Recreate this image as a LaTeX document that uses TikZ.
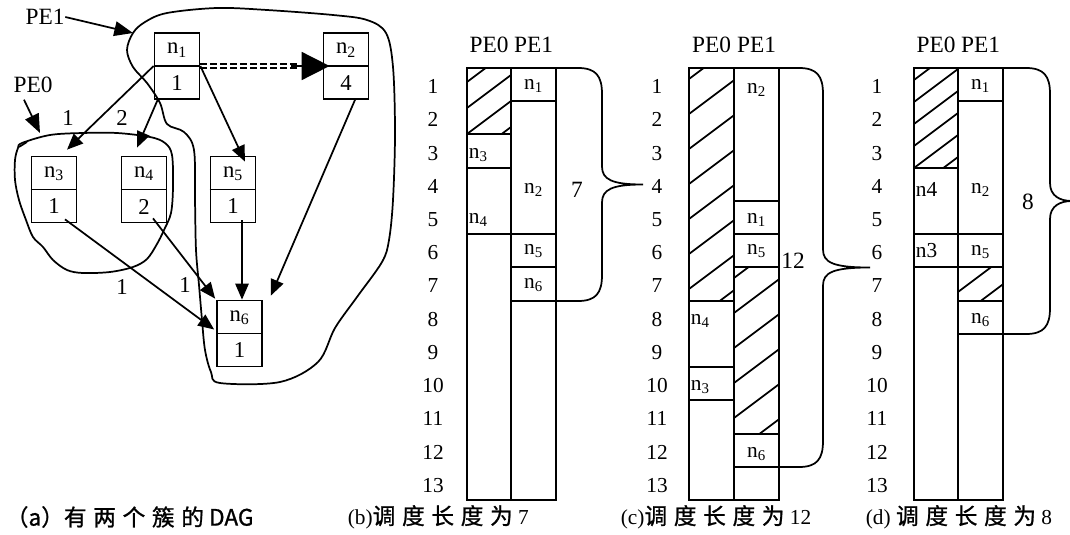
\documentclass[tikz,border=0pt]{standalone}
\usepackage{fontspec}
\setmainfont{Liberation Serif}
\newfontfamily\cjk[FakeBold=1]{Noto Sans CJK SC}
\usetikzlibrary{arrows.meta,calc}
\newcommand\rowY[1]{round(68+33.23*(#1))}
\newcommand\cjkg{\kern5pt}
\def\hsp{36}
\newcommand\hatchrect[5][-24]{%
  \begin{scope}
    \clip ({#2},{#3}) rectangle ({#4},{#5});
    \foreach \i in {0,...,14} {\draw ({#2},{#3+#1+\hsp*\i}) -- ++(60,-45);}
  \end{scope}}
\newcommand\schedbrace[5]{%
  \pgfmathsetmacro\ym{(#2+#3)/2}
  \draw ({#1},{#2}) -- ({#4-24},{#2}) .. controls ({#4-6},{#2}) and ({#4},{#2+8}) .. ({#4},{#2+26})
    -- ({#4},{\ym-18}) .. controls ({#4},{\ym-5}) and ({#4+10},{\ym}) .. ({#5},{\ym})
    .. controls ({#4+10},{\ym}) and ({#4},{\ym+5}) .. ({#4},{\ym+18})
    -- ({#4},{#3-26}) .. controls ({#4},{#3-8}) and ({#4-6},{#3}) .. ({#4-24},{#3}) -- ({#1},{#3});}
\newcommand\gantt[5]{%
  \draw ({#2},68) rectangle ({#4},500);
  \draw ({#3},68) -- ({#3},500);
  \foreach \k in {1,...,13} {\node[rowlab] (#1r\k) at ({#5},{68+33.23*(\k-0.5)+2}) {\k};}
  \node[hdr] (#1h0) at ({(#2+#3)/2},45) {PE0};
  \node[hdr] (#1h1) at ({(#3+#4)/2},45) {PE1};}
\newcommand\cut[3]{\draw ({#1},{\rowY{#3}}) -- ({#2},{\rowY{#3}});}
\tikzset{
  rowlab/.style={font=\fontsize{16}{17}\selectfont, inner sep=0pt},
  hdr/.style={font=\fontsize{17.5}{19}\selectfont, inner sep=0pt},
  celltxt/.style={font=\fontsize{16}{17}\selectfont, inner sep=0pt},
  lcelltxt/.style={celltxt, anchor=west},
  dagbox/.style={draw, minimum width=33.75pt, minimum height=49.5pt, inner sep=0pt},
  dagtxt/.style={font=\fontsize{17}{18}\selectfont, inner sep=0pt},
  captxt/.style={font=\fontsize{16}{18}\selectfont, inner sep=0pt, anchor=west},
  cjkcap/.style={font=\fontsize{17}{18}\selectfont\cjk},
  arr/.style={-{Triangle[length=12pt,width=10pt]}},
  bigarr/.style={-{Triangle[length=21pt,width=21pt]}},
}
\begin{document}
\begin{tikzpicture}[x=0.75pt,y=-0.75pt,line width=1.3pt]
\useasboundingbox (0,0) rectangle (1070,535);
% ---------------- (a) DAG ----------------
\draw plot[smooth cycle, tension=0.55] coordinates {(127,50)(133,33)(145,22)(167,13)(217,8)(267,10)(333,15)(367,20)(386,33)(393,67)(395,133)(393,200)(389,240)(382,262)(357,297)(335,328)(318,362)(280,382)(220,383)(211,372)(205,350)(202,320)(199,285)(196,250)(195,200)(194,150)(184,132)(167,124)(160,103)(147,83)(133,67)};
\draw plot[smooth cycle, tension=0.55] coordinates {(22,143)(50,135)(83,133)(117,133)(150,137)(165,143)(172,155)(173,187)(171,213)(164,230)(157,244)(147,259)(133,267)(110,272)(83,273)(67,270)(53,260)(43,247)(33,237)(26,220)(19,200)(15,180)(15,160)(18,148)};
\draw (19,147) -- (27,142);
\node[dagbox] (n1) at (177,66) {};
\node[dagbox] (n2) at (346,66) {};
\node[dagbox] (n3) at (54,189.5) {};
\node[dagbox] (n4) at (144,189.5) {};
\node[dagbox] (n5) at (233,189.5) {};
\node[dagbox] (n6) at (239.5,333.5) {};
\foreach \n/\s/\w in {n1/1/1,n2/2/4,n3/3/1,n4/4/2,n5/5/1,n6/6/1} {
  \draw (\n.west) -- (\n.east);
  \node[dagtxt] (\n a) at ($(\n.center)+(0,-16)$) {n\textsubscript{\s}};
  \node[dagtxt] (\n b) at ($(\n.center)+(0,17)$) {\w};
}
\node[hdr] (pe1) at (45,17) {PE1};
\coordinate (pe1tip) at (133,33);
\draw[-{Triangle[length=14pt,width=11pt]}] (pe1.east) -- (pe1tip);
\node[hdr] (pe0) at (33,85) {PE0};
\coordinate (pe0tip) at (40,133);
\draw[-{Triangle[length=14pt,width=11pt]}] ([shift={(-9,6)}]pe0.south) -- (pe0tip);
% edges
\draw[dashed, dash pattern=on 5pt off 2.5pt, line width=1pt] ([shift={(0,-2)}]n1.east) -- ([shift={(-26,-2)}]n2.west);
\draw[dashed, dash pattern=on 5pt off 2.5pt, line width=1pt] ([shift={(0,2)}]n1.east) -- ([shift={(-26,2)}]n2.west);
\draw[bigarr] ([shift={(-32,0)}]n2.west) -- ([shift={(7,0)}]n2.west);
\draw[arr] (n1.west) -- ([shift={(13,-6)}]n3.north);
\draw[arr] ([shift={(4,0)}]n1.south west) -- ([shift={(-7,-8)}]n4.north);
\draw[arr] (n1.east) -- ([shift={(12,6)}]n5.north);
\draw[arr] ([shift={(9,0)}]n2.south) -- ([shift={(8,-4)}]n6.north east);
\draw[arr] ([shift={(9,-3)}]n5.south) -- ([shift={(2.5,0)}]n6.north);
\draw[arr] ([shift={(9,-5)}]n4.south) -- ([shift={(-1,-1)}]n6.north west);
\draw[arr] ([shift={(11,-4)}]n3.south) -- ([shift={(-2,-4)}]n6.west);
\node[dagtxt] (w13) at (68,118) {1};
\node[dagtxt] (w14) at (122,118) {2};
\node[dagtxt] (w36) at (122,287) {1};
\node[dagtxt] (w46) at (185,285) {1};
% ---------------- (b) ----------------
\def\hsp{26}
\hatchrect[-12]{467}{68}{511}{\rowY{2}}
\gantt{b}{467}{511}{556}{433}
\cut{467}{511}{2}\cut{467}{511}{3}\cut{467}{511}{5}
\cut{511}{556}{1}\cut{511}{556}{5}\cut{511}{556}{6}\cut{511}{556}{7}
\node[celltxt] (bn1) at (533.5,86) {n\textsubscript{1}};
\node[celltxt] (bn2) at (533.5,190) {n\textsubscript{2}};
\node[celltxt] (bn5) at (533.5,251) {n\textsubscript{5}};
\node[celltxt] (bn6) at (533.5,285) {n\textsubscript{6}};
\node[lcelltxt] (bn3) at (468,155) {n\textsubscript{3}};
\node[lcelltxt] (bn4) at (468,220) {n\textsubscript{4}};
\schedbrace{556}{68}{301}{602}{643}
\node[hdr] (bt) at (577,190) {7};
% ---------------- (c) ----------------
\def\hsp{35}
\hatchrect{689}{68}{734}{\rowY{7}}
\hatchrect{734}{\rowY{6}}{779}{\rowY{11}}
\gantt{c}{689}{734}{779}{657}
\cut{689}{734}{7}\cut{689}{734}{9}\cut{689}{734}{10}
\cut{734}{779}{4}\cut{734}{779}{5}\cut{734}{779}{6}\cut{734}{779}{11}\cut{734}{779}{12}
\node[celltxt] (cn2) at (756.5,90) {n\textsubscript{2}};
\node[celltxt] (cn1) at (756.5,220) {n\textsubscript{1}};
\node[celltxt] (cn5) at (756.5,251) {n\textsubscript{5}};
\node[celltxt] (cn6) at (756.5,454) {n\textsubscript{6}};
\node[lcelltxt] (cn4) at (690,321) {n\textsubscript{4}};
\node[lcelltxt] (cn3) at (690,387) {n\textsubscript{3}};
\schedbrace{779}{68}{467}{823}{870}
\node[hdr] (ct) at (793,261) {12};
% ---------------- (d) ----------------
\def\hsp{22}
\hatchrect[-10]{914}{68}{958}{\rowY{3}}
\def\hsp{26}
\hatchrect[-1]{958}{\rowY{6}}{1003}{\rowY{7}}
\gantt{d}{914}{958}{1003}{877}
\cut{914}{958}{3}\cut{914}{958}{5}\cut{914}{958}{6}
\cut{958}{1003}{1}\cut{958}{1003}{5}\cut{958}{1003}{6}\cut{958}{1003}{7}\cut{958}{1003}{8}
\node[celltxt] (dn1) at (980.5,86) {n\textsubscript{1}};
\node[celltxt] (dn2) at (980.5,190) {n\textsubscript{2}};
\node[celltxt] (dn5) at (980.5,252) {n\textsubscript{5}};
\node[celltxt] (dn6) at (980.5,320) {n\textsubscript{6}};
\node[lcelltxt] (dn4) at (915,189) {n4};
\node[lcelltxt] (dn3) at (915,251) {n3};
\schedbrace{1003}{68}{334}{1050}{1072}
\node[hdr] (dt) at (1028,202) {8};
% ---------------- captions ----------------
\node[captxt, cjkcap] (capa) at (5,517) {（a）有\cjkg 两\cjkg 个\cjkg 簇\cjkg 的 DAG};
\node[captxt] (capb) at (347,517) {(b){\fontsize{17}{18}\selectfont\cjk 调\cjkg 度\cjkg 长\cjkg 度\cjkg 为} 7};
\node[captxt] (capc) at (620,517) {(c){\fontsize{17}{18}\selectfont\cjk 调\cjkg 度\cjkg 长\cjkg 度\cjkg 为} 12};
\node[captxt] (capd) at (865,517) {(d) {\fontsize{17}{18}\selectfont\cjk 调\cjkg 度\cjkg 长\cjkg 度\cjkg 为} 8};
\end{tikzpicture}
\end{document}
